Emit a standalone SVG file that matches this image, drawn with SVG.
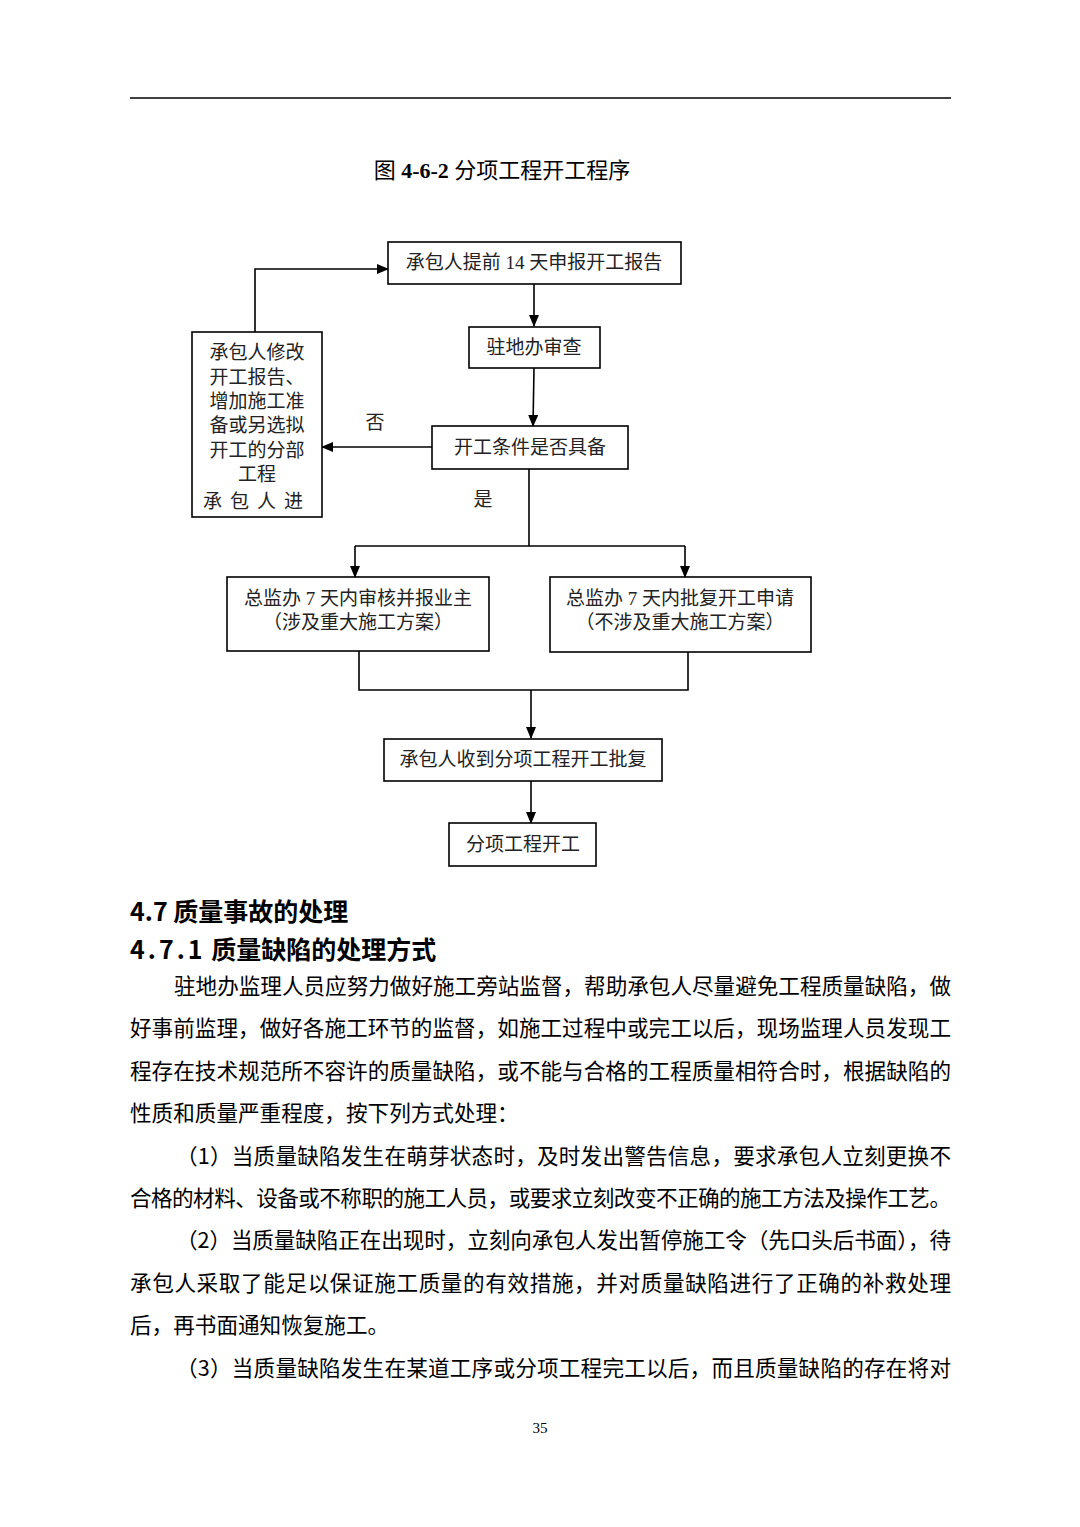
<svg xmlns="http://www.w3.org/2000/svg" width="1080" height="1527" viewBox="0 0 1080 1527">
<defs>
<marker id="ah" markerWidth="12" markerHeight="10" refX="11" refY="5" orient="auto" markerUnits="userSpaceOnUse">
<path d="M0,0 L12,5 L0,10 z" fill="#000"/>
</marker>
<style>
.box{fill:#fff;stroke:#000;stroke-width:1.6}
.ln{fill:none;stroke:#000;stroke-width:1.6}
.ft{font-family:"Liberation Serif","Noto Sans CJK SC",serif;font-size:19px;fill:#222;text-anchor:middle}
.ttl{font-family:"Liberation Serif","Noto Sans CJK SC",serif;font-size:22px;fill:#000;text-anchor:middle}
.hd{font-family:"Noto Sans CJK SC",sans-serif;font-size:25px;font-weight:bold;fill:#000}
.bd{font-family:"Noto Sans CJK SC",sans-serif;font-size:21.6px;fill:#000}
.pg{font-family:"Liberation Serif",serif;font-size:15px;fill:#000;text-anchor:middle}
</style>
</defs>
<rect width="1080" height="1527" fill="#fff"/>
<line x1="130" y1="98" x2="951" y2="98" stroke="#000" stroke-width="1.5"/>
<text class="ttl" x="502" y="178">图 <tspan font-weight="bold">4-6-2</tspan> 分项工程开工程序</text>

<g id="connectors">
<path class="ln" d="M534,284 L534,326" marker-end="url(#ah)"/>
<path class="ln" d="M534,368 L533,426" marker-end="url(#ah)"/>
<path class="ln" d="M432,447 L322,447" marker-end="url(#ah)"/>
<path class="ln" d="M255,332 L255,269 L388,269" marker-end="url(#ah)"/>
<path class="ln" d="M529,469 L529,546"/>
<path class="ln" d="M355,546 L685,546"/>
<path class="ln" d="M355,546 L355,577" marker-end="url(#ah)"/>
<path class="ln" d="M685,546 L685,577" marker-end="url(#ah)"/>
<path class="ln" d="M359,651 L359,690 L688,690 L688,652"/>
<path class="ln" d="M531,690 L531,738" marker-end="url(#ah)"/>
<path class="ln" d="M531,781 L531,823" marker-end="url(#ah)"/>
<text class="ft" x="375" y="429">否</text>
<text class="ft" x="483" y="506">是</text>
</g>

<g id="n1">
<rect class="box" x="388" y="242" width="293" height="42"/>
<text class="ft" x="534" y="269">承包人提前 14 天申报开工报告</text>
</g>
<g id="n2">
<rect class="box" x="469" y="327" width="131" height="41"/>
<text class="ft" x="534" y="354">驻地办审查</text>
</g>
<g id="n3">
<rect class="box" x="432" y="426" width="196" height="43"/>
<text class="ft" x="530" y="454">开工条件是否具备</text>
</g>
<g id="n4">
<rect class="box" x="192" y="332" width="130" height="185"/>
<text class="ft" x="257" y="359">承包人修改</text>
<text class="ft" x="257" y="384">开工报告、</text>
<text class="ft" x="257" y="408">增加施工准</text>
<text class="ft" x="257" y="432">备或另选拟</text>
<text class="ft" x="257" y="457">开工的分部</text>
<text class="ft" x="257" y="481">工程</text>
<text class="ft" x="257" y="508" letter-spacing="8">承包人进</text>
</g>
<g id="n5">
<rect class="box" x="227" y="577" width="262" height="74"/>
<text class="ft" x="358" y="605">总监办 7 天内审核并报业主</text>
<text class="ft" x="358" y="629">（涉及重大施工方案）</text>
</g>
<g id="n6">
<rect class="box" x="550" y="577" width="261" height="75"/>
<text class="ft" x="680" y="605">总监办 7 天内批复开工申请</text>
<text class="ft" x="680" y="629">（不涉及重大施工方案）</text>
</g>
<g id="n7">
<rect class="box" x="384" y="739" width="278" height="42"/>
<text class="ft" x="523" y="766">承包人收到分项工程开工批复</text>
</g>
<g id="n8">
<rect class="box" x="449" y="823" width="147" height="43"/>
<text class="ft" x="523" y="851">分项工程开工</text>
</g>

<text class="hd" x="130" y="921">4.7 质量事故的处理</text>
<text class="hd" x="130" y="959"><tspan letter-spacing="3">4.7.1</tspan> 质量缺陷的处理方式</text>

<text class="bd" x="174" y="994" textLength="777" lengthAdjust="spacing">驻地办监理人员应努力做好施工旁站监督，帮助承包人尽量避免工程质量缺陷，做</text>
<text class="bd" x="130" y="1036" textLength="821" lengthAdjust="spacing">好事前监理，做好各施工环节的监督，如施工过程中或完工以后，现场监理人员发现工</text>
<text class="bd" x="130" y="1079" textLength="821" lengthAdjust="spacing">程存在技术规范所不容许的质量缺陷，或不能与合格的工程质量相符合时，根据缺陷的</text>
<text class="bd" x="130" y="1121">性质和质量严重程度，按下列方式处理：</text>
<text class="bd" x="176" y="1164" textLength="775" lengthAdjust="spacing">（1）当质量缺陷发生在萌芽状态时，及时发出警告信息，要求承包人立刻更换不</text>
<text class="bd" x="130" y="1206" textLength="821" lengthAdjust="spacing">合格的材料、设备或不称职的施工人员，或要求立刻改变不正确的施工方法及操作工艺。</text>
<text class="bd" x="176" y="1248" textLength="775" lengthAdjust="spacing">（2）当质量缺陷正在出现时，立刻向承包人发出暂停施工令（先口头后书面），待</text>
<text class="bd" x="130" y="1291" textLength="821" lengthAdjust="spacing">承包人采取了能足以保证施工质量的有效措施，并对质量缺陷进行了正确的补救处理</text>
<text class="bd" x="130" y="1333">后，再书面通知恢复施工。</text>
<text class="bd" x="176" y="1376" textLength="775" lengthAdjust="spacing">（3）当质量缺陷发生在某道工序或分项工程完工以后，而且质量缺陷的存在将对</text>

<text class="pg" x="540" y="1433">35</text>
</svg>
